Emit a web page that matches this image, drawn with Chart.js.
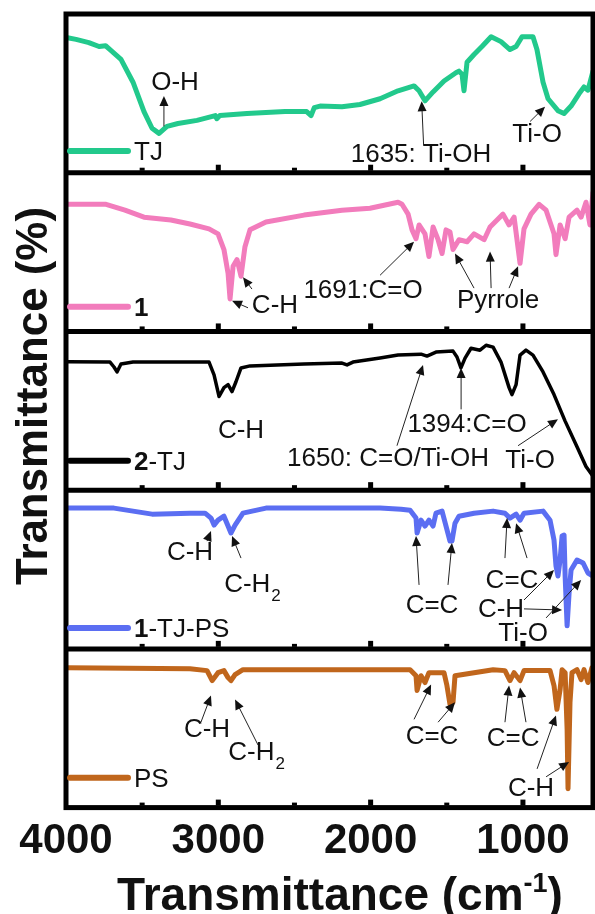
<!DOCTYPE html>
<html><head><meta charset="utf-8">
<script src="https://cdn.jsdelivr.net/npm/chart.js@4.4.0/dist/chart.umd.min.js"></script>
<style>html,body{margin:0;padding:0;background:#fff;}canvas{display:block;}</style>
</head><body>
<canvas id="c" width="595" height="914"></canvas>
<script>
// ---------- data (wavenumber cm-1, transmittance in % of panel height) ----------
const xTickLabels = [4000, 3000, 2000, 1000];
const xMinorTicks = [3500, 2500, 1500];
const seriesNames = ['TJ', '1', '2-TJ', '1-TJ-PS', 'PS'];
const seriesColors = ['#22c98c', '#f27cbc', '#000000', '#5b6ef2', '#c0661c'];

const tjWn = [3990,3934,3850,3783,3740,3711,3639,3560,3488,3435,3389,3337,3265,3140,3020,3010,2990,2812,2562,2420,2391,2370,2332,2188,2070,1938,1820,1715,1682,1643,1590,1518,1440,1420,1400,1387,1367,1321,1269,1209,1144,1085,1045,1006,934,908,868,835,770,730,684,632,599,573,540];
const tjT  = [85,84,82,79.5,80,77.6,71.4,57,38.5,28,24.8,29.2,31,33,36,34,36,37.3,38.5,38.5,36,41,42,41.6,43,46.6,51.6,54.7,51.6,45.3,50.9,57.8,63,64,62,51.6,69.6,74.5,79.5,85.7,82.6,77.6,79.5,85.7,85.7,77.6,57,46.6,39.1,37.3,42,49.7,54,52,64];

const s1Wn = [3990,3737,3613,3488,3311,3186,3061,3002,2963,2936,2923,2903,2877,2851,2825,2792,2687,2437,2188,2004,1820,1794,1754,1728,1702,1682,1643,1617,1590,1557,1531,1505,1479,1459,1420,1367,1321,1255,1216,1170,1131,1091,1058,1019,993,947,894,848,796,783,756,723,697,645,618,586,560,540];
const s1T  = [80.1,80.1,76.4,72,70.2,67.7,64.6,61.5,51.6,36.6,20.5,41,45.3,34.8,53.4,64,68.9,73.3,76.4,77.6,81.4,80.1,73.9,64,58.4,67.1,61.5,47.2,65.8,57.8,49.1,64,62.7,51.6,57.8,56.5,61.5,57.8,65.8,70.2,73.9,67.1,72,42.9,64.6,73.9,80.1,76.4,61.5,48.4,67.1,58.4,72,76.4,72,81.4,67.1,87.6];

const s2Wn = [3990,3711,3685,3665,3639,3560,3061,3028,2995,2963,2936,2910,2884,2851,2792,2437,2188,2155,2116,1938,1820,1669,1630,1571,1459,1433,1407,1380,1341,1282,1242,1196,1144,1091,1072,1045,1019,980,934,868,796,723,645,586,540];
const s2T  = [80.9,80.7,77.6,74.5,79.5,80.7,80.7,72.7,59,64.6,66.5,62.1,68.3,77,78.3,79.5,80.1,78.9,80.7,83.2,85.1,85.7,84.5,87,87.6,83.9,77,83.2,89.4,88.2,91.3,90.1,80.7,64.6,60.2,66.5,85.1,88.2,85.1,74.5,60.2,43.5,27.3,14.9,8.7];

const s3Wn = [3990,3685,3435,3186,3087,3048,3028,3002,2963,2936,2917,2890,2838,2687,2300,1938,1800,1741,1702,1695,1669,1643,1617,1590,1571,1531,1505,1479,1466,1446,1420,1321,1196,1118,1085,1045,1019,993,868,822,796,783,770,756,743,730,723,710,697,684,645,605,573,540];
const s3T  = [88.7,88.7,84.9,85.5,85.5,82.4,78,81.1,83.6,77.4,73,78,85.5,88.7,88.7,88.7,88,87.4,82.4,73,81.1,77.4,81.1,77.4,85.5,86.8,77.4,67.9,67.9,79.2,83.6,85.5,86.8,85.5,82.4,84.9,81.1,85.5,86.8,81.1,68.6,52.2,45.9,56,71.1,71.7,45.9,14.5,35.2,49.7,56,54.1,47.8,45.9];

const psWn = [3990,3186,3074,3040,3002,2963,2936,2917,2890,2838,1741,1702,1695,1669,1643,1617,1518,1499,1479,1459,1446,1196,1118,1085,1058,1019,993,822,796,777,756,743,723,710,704,691,678,645,618,599,573,547];
const psT  = [88.1,87.5,86.3,80,85,86.3,81.9,80,83.8,86.9,86.9,83.1,73.8,83.1,78.8,85,85,76.9,65,66.3,83.1,86.9,86.3,80,85,80,86.3,86.3,76.9,61.9,74.4,86.9,85,49.4,11.9,66.3,85,86.9,80.6,86.9,78.8,88.1];

const allWn = [tjWn, s1Wn, s2Wn, s3Wn, psWn];
const allT  = [tjT, s1T, s2T, s3T, psT];

// ---------- annotations (panel index, label, wavenumber, panel %, arrows) ----------
const notes = [
  {p:0, t:'O-H', x:3284, y:56.5, ar:[[3357,29.2,3357,48.4]]},
  {p:0, t:'1635: Ti-OH', x:1669, y:11.2, ar:[[1652,17,1665,45]]},
  {p:0, t:'Ti-O', x:907, y:23.6, ar:[[953,32.3,855,41.6]]},
  {p:1, t:'C-H', x:2628, y:16.1, ar:[[2805,14.9,2910,19.3],[2779,26.7,2838,34.2]]},
  {p:1, t:'1691:C=O', x:2050, y:25.5, ar:[[1938,35.4,1715,56.5]]},
  {p:1, t:'Pyrrole', x:1163, y:19.3, ar:[[1321,27.3,1446,49.1],[1209,27.3,1216,50.3],[1091,27.3,1032,41]]},
  {p:2, t:'C-H', x:2851, y:37.3, ar:[]},
  {p:2, t:'1394:C=O', x:1367, y:41, ar:[[1406,50.9,1406,77]]},
  {p:2, t:'1650: C=O/Ti-OH', x:1886, y:19.9, ar:[[1827,28,1656,78.9]]},
  {p:2, t:'Ti-O', x:953, y:18.6, ar:[[1032,28,770,44.7]]},
  {p:3, t:'C-H', x:3186, y:60.4, ar:[[3074,67.9,3048,74.2]]},
  {p:3, t:'C-H', sub:'2', x:2779, y:40.3, ar:[[2851,57.2,2910,71.1]]},
  {p:3, t:'C=C', x:1597, y:27, ar:[[1682,40.3,1702,71.1],[1492,40.3,1466,66.7]]},
  {p:3, t:'C=C', x:1072, y:42.8, ar:[[1118,57.2,1104,82.4],[973,57.2,1045,79.2]]},
  {p:3, t:'C-H', x:1144, y:24.5, ar:[[993,30.8,796,49.7],[993,25.2,743,24.5]]},
  {p:3, t:'Ti-O', x:999, y:9.4, ar:[[848,19.5,618,43.4]]},
  {p:4, t:'C-H', x:3074, y:48.8, ar:[[3114,53.8,3048,70.6]]},
  {p:4, t:'C-H', sub:'2', x:2752, y:34.4, ar:[[2739,39.4,2890,68.1]]},
  {p:4, t:'C=C', x:1597, y:44.4, ar:[[1715,55.6,1603,77.5],[1557,53.8,1446,66.3]]},
  {p:4, t:'C=C', x:1065, y:43.1, ar:[[1118,53.8,1091,76.9],[980,53.8,1019,75.6]]},
  {p:4, t:'C-H', x:947, y:11.9, ar:[[907,24.4,783,58.1],[848,19.4,697,28.8]]}
];
const legendLevels = [13.7, 15.5, 18.6, 13.2, 18.8];
const legendParts = [[['TJ',false]], [['1',true]], [['2',true],['-TJ',false]], [['1',true],['-TJ-PS',false]], [['PS',false]]];

const FONT = "'Liberation Sans', Arial, sans-serif";
const PANEL = 100, NP = 5;

const datasets = allWn.map((wn, k) => ({
  label: seriesNames[k],
  data: wn.map((w, i) => ({x: w, y: allT[k][i] + (NP - 1 - k) * PANEL})),
  borderColor: seriesColors[k],
  borderWidth: k === 2 ? 3.5 : 5,
  pointRadius: 0,
  tension: 0,
  borderJoinStyle: 'round',
  borderCapStyle: 'round',
  fill: false
}));

function panelY(y, p, v) { return y.getPixelForValue((NP - 1 - p) * PANEL + v); }

function drawArrow(ctx, x1, y1, x2, y2) {
  const ang = Math.atan2(y2 - y1, x2 - x1), L = 10, W = 4.5;
  ctx.beginPath(); ctx.moveTo(x1, y1);
  ctx.lineTo(x2 - Math.cos(ang) * L * 0.8, y2 - Math.sin(ang) * L * 0.8); ctx.stroke();
  ctx.beginPath(); ctx.moveTo(x2, y2);
  ctx.lineTo(x2 - Math.cos(ang) * L + Math.sin(ang) * W, y2 - Math.sin(ang) * L - Math.cos(ang) * W);
  ctx.lineTo(x2 - Math.cos(ang) * L - Math.sin(ang) * W, y2 - Math.sin(ang) * L + Math.cos(ang) * W);
  ctx.closePath(); ctx.fill();
}

const decor = {
  id: 'decor',
  afterDatasetsDraw(chart) {
    const {ctx, chartArea: a, scales: {x, y}} = chart;
    ctx.save();
    // frame and separators
    ctx.strokeStyle = '#000'; ctx.lineWidth = 5; ctx.lineJoin = 'miter';
    ctx.strokeRect(a.left, a.top, a.right - a.left, a.bottom - a.top);
    for (let k = 1; k < NP; k++) {
      const yy = y.getPixelForValue(k * PANEL);
      ctx.beginPath(); ctx.moveTo(a.left, yy); ctx.lineTo(a.right, yy); ctx.stroke();
    }
    // inward ticks at each panel bottom
    ctx.fillStyle = '#000';
    for (let k = 0; k < NP; k++) {
      const yb = y.getPixelForValue(k * PANEL) - 2;
      xTickLabels.forEach(v => { const px = x.getPixelForValue(v); if (v < 4000) ctx.fillRect(px - 2.5, yb - 6, 5, 6); });
      xMinorTicks.forEach(v => { const px = x.getPixelForValue(v); ctx.fillRect(px - 2.5, yb - 3, 5, 3); });
    }
    // legends
    for (let k = 0; k < NP; k++) {
      const ly = panelY(y, k, legendLevels[k]);
      ctx.strokeStyle = seriesColors[k]; ctx.lineWidth = 6; ctx.lineCap = 'round';
      ctx.beginPath(); ctx.moveTo(a.left + 4, ly); ctx.lineTo(a.left + 62, ly); ctx.stroke();
      let tx = a.left + 68;
      ctx.fillStyle = '#111'; ctx.textBaseline = 'middle'; ctx.textAlign = 'left';
      legendParts[k].forEach(([s, b]) => {
        ctx.font = (b ? 'bold ' : '') + '26px ' + FONT;
        ctx.fillText(s, tx, ly + 2); tx += ctx.measureText(s).width;
      });
    }
    // annotations
    ctx.lineCap = 'butt';
    notes.forEach(n => {
      ctx.strokeStyle = '#222'; ctx.fillStyle = '#111'; ctx.lineWidth = 1;
      n.ar.forEach(([w1, v1, w2, v2]) => drawArrow(ctx, x.getPixelForValue(w1), panelY(y, n.p, v1), x.getPixelForValue(w2), panelY(y, n.p, v2)));
      const cx = x.getPixelForValue(n.x), cy = panelY(y, n.p, n.y);
      ctx.font = '26px ' + FONT; ctx.textBaseline = 'middle'; ctx.textAlign = 'left';
      const w1 = ctx.measureText(n.t).width;
      let wS = 0;
      if (n.sub) { ctx.font = '17px ' + FONT; wS = ctx.measureText(n.sub).width; }
      const x0 = cx - (w1 + wS) / 2;
      ctx.font = '26px ' + FONT; ctx.fillText(n.t, x0, cy);
      if (n.sub) { ctx.font = '17px ' + FONT; ctx.fillText(n.sub, x0 + w1 + 1, cy + 11); }
    });
    // y title
    ctx.fillStyle = '#111';
    ctx.save();
    ctx.translate(31, 396); ctx.rotate(-Math.PI / 2);
    ctx.font = 'bold 44px ' + FONT; ctx.textAlign = 'center'; ctx.textBaseline = 'alphabetic';
    const yt = 'Transmittance (%)';
    const wy = ctx.measureText(yt).width;
    ctx.scale(378 / wy, 1);
    ctx.fillText(yt, 0, 15.5);
    ctx.restore();
    // x title with superscript
    const p1 = 'Transmittance (cm', sup = '-1', p2 = ')';
    ctx.textAlign = 'left'; ctx.textBaseline = 'alphabetic';
    ctx.font = 'bold 46px ' + FONT; const wa = ctx.measureText(p1).width, wc = ctx.measureText(p2).width;
    ctx.font = 'bold 27px ' + FONT; const wb = ctx.measureText(sup).width;
    let sx = 340 - (wa + wb + wc) / 2; const by = 910;
    ctx.font = 'bold 46px ' + FONT; ctx.fillText(p1, sx, by); sx += wa;
    ctx.font = 'bold 27px ' + FONT; ctx.fillText(sup, sx, by - 18); sx += wb;
    ctx.font = 'bold 46px ' + FONT; ctx.fillText(p2, sx, by);
    ctx.restore();
  }
};

new Chart(document.getElementById('c'), {
  type: 'line',
  data: {datasets},
  options: {
    responsive: false, animation: false, devicePixelRatio: 1,
    layout: {padding: {left: 66, right: 2, top: 14, bottom: 38}},
    plugins: {legend: {display: false}, tooltip: {enabled: false}},
    scales: {
      x: {
        type: 'linear', reverse: true, min: 540, max: 4000,
        afterBuildTicks: s => { s.ticks = xTickLabels.map(v => ({value: v})); },
        ticks: {color: '#111', font: {family: FONT, size: 42, weight: 'bold'}, padding: 9, maxRotation: 0, autoSkip: false,
                callback: v => String(v)},
        grid: {display: false, drawTicks: false},
        border: {display: false}
      },
      y: {display: false, min: 0, max: NP * PANEL}
    }
  },
  plugins: [decor]
});
</script>
</body></html>
